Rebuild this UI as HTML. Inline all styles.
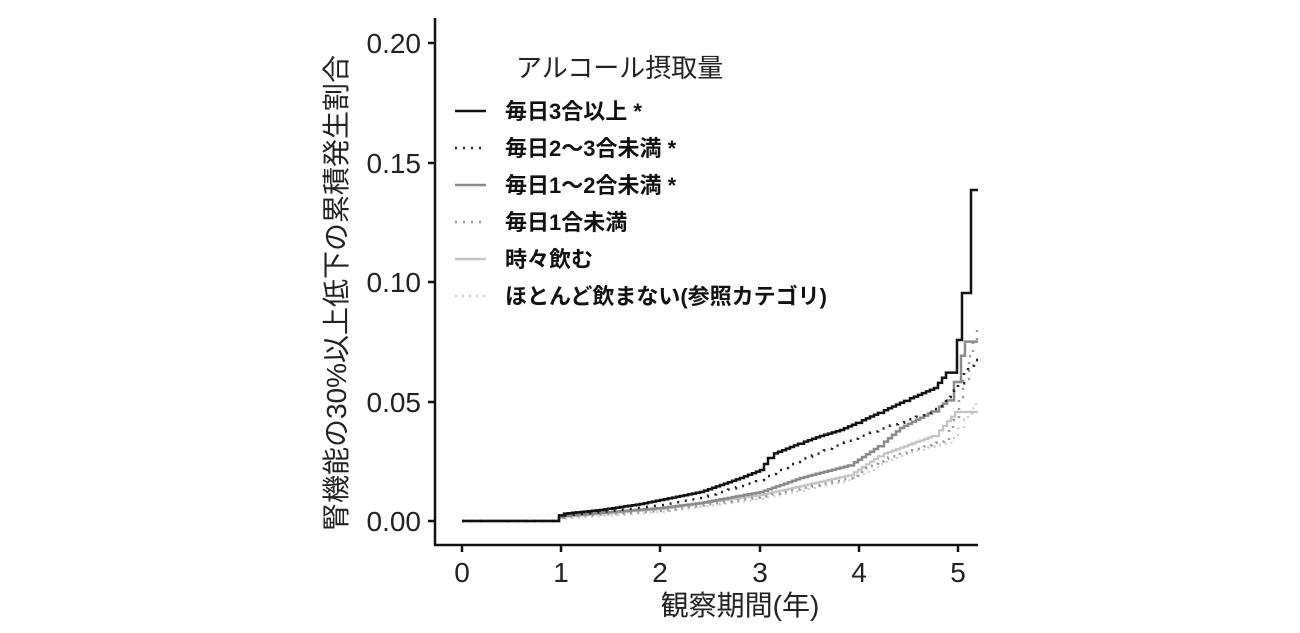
<!DOCTYPE html>
<html><head><meta charset="utf-8"><style>
body{margin:0;background:#fff;}
svg text{font-family:"Liberation Sans","Noto Sans CJK JP",sans-serif;}
</style></head><body>
<svg id="s" width="1300" height="628" viewBox="0 0 1300 628" xmlns="http://www.w3.org/2000/svg">
<rect width="1300" height="628" fill="#fff"/>
<g stroke="#111" stroke-width="2.5" fill="none">
<path d="M435 18 V545 H978"/>
<path d="M428 43 H435 M428 163 H435 M428 282 H435 M428 402 H435 M428 521 H435"/>
<path d="M462 545 V552 M561 545 V552 M660 545 V552 M760 545 V552 M859 545 V552 M958 545 V552"/>
</g>
<g font-size="28" fill="#222" text-anchor="end">
<text x="421" y="53">0.20</text><text x="421" y="173">0.15</text><text x="421" y="292">0.10</text><text x="421" y="412">0.05</text><text x="421" y="531">0.00</text>
</g>
<g font-size="28" fill="#222" text-anchor="middle">
<text x="462" y="582">0</text><text x="561" y="582">1</text><text x="660" y="582">2</text><text x="760" y="582">3</text><text x="859" y="582">4</text><text x="958" y="582">5</text>
<text x="740" y="615">観察期間(年)</text>
<text transform="translate(346,293) rotate(-90)">腎機能の30%以上低下の累積発生割合</text>
</g>
<g fill="none">
<path id="p6" stroke="#ccc" stroke-width="2" stroke-dasharray="2,5"/>
<path id="p5" stroke="#c4c4c4" stroke-width="2.2"/>
<path id="p4" stroke="#999" stroke-width="2.5" stroke-dasharray="2,6"/>
<path id="p3" stroke="#8a8a8a" stroke-width="2.5"/>
<path id="p2" stroke="#222" stroke-width="2.5" stroke-dasharray="2,7"/>
<path id="p1" stroke="#111" stroke-width="2.5"/>
</g>
<text x="516" y="77" font-size="26" fill="#222">アルコール摂取量</text>
<g stroke-width="2.5" fill="none">
<path d="M455 111 H486" stroke="#111"/>
<path d="M455 148 H486" stroke="#222" stroke-dasharray="2,6"/>
<path d="M455 185 H486" stroke="#8a8a8a"/>
<path d="M455 222 H486" stroke="#999" stroke-dasharray="2,6"/>
<path d="M455 259 H486" stroke="#c4c4c4"/>
<path d="M455 296 H486" stroke="#ccc" stroke-dasharray="2,5"/>
</g>
<g font-size="22" fill="#111" font-weight="bold">
<text x="505" y="119">毎日3合以上 *</text>
<text x="505" y="156">毎日2～3合未満 *</text>
<text x="505" y="193">毎日1～2合未満 *</text>
<text x="505" y="230">毎日1合未満</text>
<text x="505" y="267">時々飲む</text>
<text x="505" y="304">ほとんど飲まない(参照カテゴリ)</text>
</g>
</svg>
<script>
function sp(pts,dx,tail){
  var d="M"+pts[0][0]+" "+pts[0][1];
  for(var i=1;i<pts.length;i++){
    var a=pts[i-1],b=pts[i];
    for(var x=a[0]+dx;x<=b[0]+0.01;x+=dx){
      var y=a[1]+(b[1]-a[1])*(x-a[0])/(b[0]-a[0]);
      d+=" H"+x.toFixed(1)+" V"+y.toFixed(1);
    }
  }
  return d+(tail||"");
}
var D={
p1:[sp([[462,521],[555,521],[560,514],[600,510],[640,504],[660,500],[700,492],[740,478],[760,470],[770,455],[800,443],[820,436],[840,430],[858,422],[880,412],[906,400],[934,388],[948,370]],4)+" H957 V340 H962 V293 H971 V190 H978"],
p2:[sp([[462,521],[555,521],[560,516],[600,512],[660,505],[700,498],[760,480],[800,460],[850,440],[900,422],[930,412],[950,397],[960,380],[970,362],[978,358]],4)],
p3:[sp([[462,521],[555,521],[560,516],[660,508],[700,503],[760,492],[800,478],[850,465],[880,445],[900,428],[935,410],[950,398],[957,370],[966,338]],4)+" H978"],
p4:[sp([[462,521],[555,521],[560,517],[660,511],[760,497],[850,478],[880,460],[945,440],[955,415],[965,370],[978,325]],4)],
p5:[sp([[462,521],[555,521],[560,517],[660,509],[760,495],[850,475],[880,455],[935,435],[955,412],[958,405]],4)+" H978"],
p6:[sp([[462,521],[555,521],[560,519],[660,512],[760,499],[850,480],[900,455],[950,442],[960,425],[978,400]],4)]
};
for(var k in D)document.getElementById(k).setAttribute("d",D[k][0]);
</script>
</body></html>
